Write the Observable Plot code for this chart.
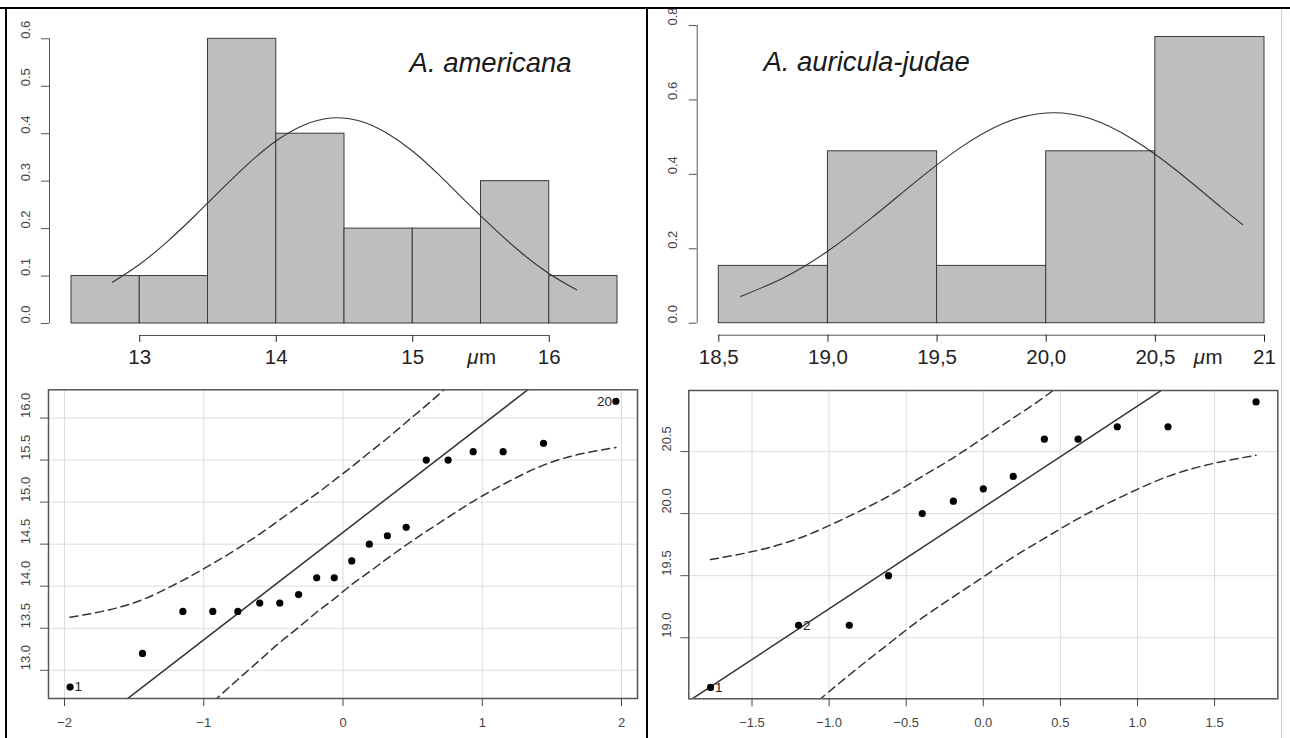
<!DOCTYPE html>
<html>
<head>
<meta charset="utf-8">
<script src="https://cdn.jsdelivr.net/npm/d3@7"></script>
<script src="https://cdn.jsdelivr.net/npm/@observablehq/plot@0.6"></script>
<style>
  body { margin: 0; background: #fff; }
  #wrap { position: relative; width: 1290px; height: 738px; overflow: hidden; background: #fff;
          font-family: "Liberation Sans", Arial, Helvetica, sans-serif; }
  .panel { position: absolute; }
  .bar { position: absolute; background: #000; }
</style>
</head>
<body>
<div id="wrap">
  <div class="panel" id="p1" style="left:0;top:0;"></div>
  <div class="panel" id="p2" style="left:645px;top:0;"></div>
  <div class="panel" id="p3" style="left:0;top:372px;"></div>
  <div class="panel" id="p4" style="left:645px;top:372px;"></div>
  <div class="bar" style="left:0;top:7px;width:1290px;height:2px;"></div>
  <div class="bar" style="left:5px;top:7px;width:2px;height:731px;"></div>
  <div class="bar" style="left:646px;top:7px;width:2px;height:731px;"></div>
  <div class="bar" style="left:1281px;top:9px;width:1px;height:729px;background:#ccc;"></div>
</div>
<script>
// ---------- Data: A. americana (histogram) ----------
const leftBinEdges = [12.5, 13, 13.5, 14, 14.5, 15, 15.5, 16, 16.5];
const leftDensity  = [0.1, 0.1, 0.6, 0.4, 0.2, 0.2, 0.3, 0.1];
const leftCurveX = [12.8, 13.0, 13.2, 13.4, 13.6, 13.8, 14.0, 14.2, 14.4, 14.6, 14.8, 15.0, 15.2, 15.4, 15.6, 15.8, 16.0, 16.2];
const leftCurveY = [0.087, 0.125, 0.172, 0.226, 0.283, 0.338, 0.385, 0.418, 0.433, 0.428, 0.403, 0.363, 0.311, 0.254, 0.199, 0.148, 0.105, 0.071];
const leftHistYTicks = [0, 0.1, 0.2, 0.3, 0.4, 0.5, 0.6];
const leftHistYLabels = ["0.0", "0.1", "0.2", "0.3", "0.4", "0.5", "0.6"];
const leftHistXTicks = [13, 14, 15, 16];
const leftHistXLabels = ["13", "14", "15", "16"];

// ---------- Data: A. auricula-judae (histogram) ----------
const rightBinEdges = [18.5, 19, 19.5, 20, 20.5, 21];
const rightDensity  = [0.154, 0.462, 0.154, 0.462, 0.769];
const rightCurveX = [18.6, 18.8, 19.0, 19.2, 19.4, 19.6, 19.8, 20.0, 20.2, 20.4, 20.6, 20.8, 20.9];
const rightCurveY = [0.072, 0.123, 0.194, 0.283, 0.379, 0.469, 0.536, 0.565, 0.550, 0.493, 0.409, 0.312, 0.265];
const rightHistYTicks = [0, 0.2, 0.4, 0.6, 0.8];
const rightHistYLabels = ["0.0", "0.2", "0.4", "0.6", "0.8"];
const rightHistXTicks = [18.5, 19, 19.5, 20, 20.5, 21];
const rightHistXLabels = ["18,5", "19,0", "19,5", "20,0", "20,5", "21"];

// ---------- Data: Q-Q plot A. americana ----------
const leftTheo   = [-1.96, -1.44, -1.15, -0.935, -0.755, -0.598, -0.454, -0.319, -0.189, -0.063, 0.063, 0.189, 0.319, 0.454, 0.598, 0.755, 0.935, 1.15, 1.44, 1.96];
const leftSample = [12.8, 13.2, 13.7, 13.7, 13.7, 13.8, 13.8, 13.9, 14.1, 14.1, 14.3, 14.5, 14.6, 14.7, 15.5, 15.5, 15.6, 15.6, 15.7, 16.2];
const leftUpper  = [13.63, 13.84, 14.07, 14.27, 14.45, 14.62, 14.79, 14.95, 15.10, 15.26, 15.42, 15.59, 15.76, 15.95, 16.15, 16.38, 16.66, 17.01, 17.52, 18.64];
const leftLower  = [10.63, 11.75, 12.27, 12.62, 12.89, 13.12, 13.33, 13.51, 13.69, 13.85, 14.02, 14.17, 14.33, 14.49, 14.65, 14.82, 15.01, 15.21, 15.44, 15.65];
const leftLineX  = [-2.12, 2.12];
const leftLineY  = [11.93, 17.35];
const leftQQXTicks  = [-2, -1, 0, 1, 2];
const leftQQXLabels = ["\u22122", "\u22121", "0", "1", "2"];
const leftQQYTicks  = [13.0, 13.5, 14.0, 14.5, 15.0, 15.5, 16.0];
const leftQQYLabels = ["13.0", "13.5", "14.0", "14.5", "15.0", "15.5", "16.0"];
const leftPointLabels = [{i: 0, text: "1", side: "right"}, {i: 19, text: "20", side: "left"}];

// ---------- Data: Q-Q plot A. auricula-judae ----------
const rightTheo   = [-1.769, -1.198, -0.869, -0.615, -0.396, -0.194, 0, 0.194, 0.396, 0.615, 0.869, 1.198, 1.769];
const rightSample = [18.6, 19.1, 19.1, 19.5, 20.0, 20.1, 20.2, 20.3, 20.6, 20.6, 20.7, 20.7, 20.9];
const rightUpper  = [19.63, 19.80, 19.98, 20.14, 20.30, 20.45, 20.61, 20.77, 20.94, 21.15, 21.40, 21.76, 22.51];
const rightLower  = [17.59, 18.35, 18.70, 18.95, 19.16, 19.33, 19.49, 19.65, 19.80, 19.96, 20.12, 20.30, 20.47];
const rightLineX  = [-1.91, 1.91];
const rightLineY  = [18.49, 21.61];
const rightQQXTicks  = [-1.5, -1.0, -0.5, 0, 0.5, 1.0, 1.5];
const rightQQXLabels = ["\u22121.5", "\u22121.0", "\u22120.5", "0.0", "0.5", "1.0", "1.5"];
const rightQQYTicks  = [19.0, 19.5, 20.0, 20.5];
const rightQQYLabels = ["19.0", "19.5", "20.0", "20.5"];
const rightPointLabels = [{i: 0, text: "1", side: "right"}, {i: 1, text: "2", side: "right"}];

// ---------- helpers ----------
const FONT = '"Liberation Sans", Arial, Helvetica, sans-serif';
const baseStyle = {fontFamily: FONT, background: "transparent", overflow: "visible"};
const zip = (xs, ys) => xs.map((x, i) => ({x, y: ys[i]}));
const bins = (edges, dens) => dens.map((d, i) => ({x1: edges[i], x2: edges[i + 1], y: d}));
const labelOf = (ticks, labels) => d => labels[ticks.findIndex(t => Math.abs(t - d) < 1e-9)];

function histogram(o) {
  return Plot.plot({
    width: 645, height: 372,
    marginLeft: o.ml, marginRight: o.mr, marginTop: o.mt, marginBottom: o.mb,
    x: {domain: o.xdom, axis: null},
    y: {domain: o.ydom, axis: null},
    style: baseStyle,
    marks: [
      Plot.rectY(o.bins, {x1: "x1", x2: "x2", y1: 0, y2: "y", fill: "#bebebe", stroke: "#3a3a3a", strokeWidth: 1}),
      Plot.line(o.curve, {x: "x", y: "y", curve: "natural", stroke: "#333", strokeWidth: 1.1}),
      // y axis (offset to the left, R style)
      Plot.ruleX([o.xdom[0]], {y1: o.ydom[0], y2: o.ydom[1], dx: o.yAxisDx, stroke: "#555"}),
      Plot.axisY({ticks: o.yTicks, tickSize: 8, tickFormat: () => "", label: null, dx: o.yAxisDx, stroke: "#555"}),
      Plot.text(o.yTicks, {y: d => d, frameAnchor: "left", dx: o.yLabelDx, rotate: -90,
        text: labelOf(o.yTicks, o.yLabels), fontSize: 13, fill: "#444"}),
      // x axis (offset below)
      Plot.ruleY([0], {x1: o.xTicks[0], x2: o.xTicks[o.xTicks.length - 1], dy: 12, stroke: "#555"}),
      Plot.axisX({ticks: o.xTicks, tickSize: 7, tickPadding: 7, dy: 12, fontSize: 20.5, label: null,
        tickFormat: labelOf(o.xTicks, o.xLabels), color: "#222"}),
      Plot.text(["\u03bc"], {x: o.unitX, y: 0, dy: 34, dx: o.muDx, textAnchor: "start", fontStyle: "italic", fontSize: 20.5, fill: "#222"}),
      Plot.text(["m"], {x: o.unitX, y: 0, dy: 34, dx: o.muDx + 11.8, textAnchor: "start", fontSize: 20.5, fill: "#222"}),
      Plot.text([o.title], {x: o.titleX, y: o.titleY, fontSize: 27.5, fontStyle: "italic", fill: "#1a1a1a"})
    ]
  });
}

function qqplot(o) {
  const pts = zip(o.theo, o.sample);
  const labR = o.labels.filter(l => l.side === "right").map(l => ({x: o.theo[l.i], y: o.sample[l.i], t: l.text}));
  const labL = o.labels.filter(l => l.side === "left").map(l => ({x: o.theo[l.i], y: o.sample[l.i], t: l.text}));
  return Plot.plot({
    width: 645, height: 366,
    marginLeft: o.ml, marginRight: o.mr, marginTop: o.mt, marginBottom: o.mb,
    x: {domain: o.xdom, axis: null},
    y: {domain: o.ydom, axis: null},
    style: baseStyle,
    marks: [
      Plot.ruleX(o.xTicks, {stroke: "#dcdcdc", strokeWidth: 1}),
      Plot.ruleY(o.yTicks, {stroke: "#dcdcdc", strokeWidth: 1}),
      Plot.line(zip(o.theo, o.upper), {x: "x", y: "y", curve: "monotone-x", stroke: "#333", strokeWidth: 1.5, strokeDasharray: "8,5", clip: true}),
      Plot.line(zip(o.theo, o.lower), {x: "x", y: "y", curve: "monotone-x", stroke: "#333", strokeWidth: 1.5, strokeDasharray: "8,5", clip: true}),
      Plot.line(zip(o.lineX, o.lineY), {x: "x", y: "y", stroke: "#333", strokeWidth: 1.5, clip: true}),
      Plot.dot(pts, {x: "x", y: "y", r: 3.6, fill: "#000", stroke: "none"}),
      Plot.text(labR, {x: "x", y: "y", text: "t", textAnchor: "start", dx: 4.5, fontSize: 13.5, fill: "#222"}),
      Plot.text(labL, {x: "x", y: "y", text: "t", textAnchor: "end", dx: -4, fontSize: 13.5, fill: "#222"}),
      Plot.frame({stroke: "#555", strokeWidth: 1.5}),
      Plot.axisX({ticks: o.xTicks, tickSize: 8, tickPadding: 11, fontSize: 13, label: null,
        tickFormat: labelOf(o.xTicks, o.xLabels), color: "#444"}),
      Plot.axisY({ticks: o.yTicks, tickSize: 8, tickFormat: () => "", label: null, stroke: "#555"}),
      Plot.text(o.yTicks, {y: d => d, frameAnchor: "left", dx: o.yLabelDx, rotate: -90,
        text: labelOf(o.yTicks, o.yLabels), fontSize: 13, fill: "#444"})
    ]
  });
}

document.getElementById("p1").append(histogram({
  ml: 71, mr: 28, mt: 38.3, mb: 49,
  xdom: [12.5, 16.5], ydom: [0, 0.6],
  bins: bins(leftBinEdges, leftDensity), curve: zip(leftCurveX, leftCurveY),
  yTicks: leftHistYTicks, yLabels: leftHistYLabels, yAxisDx: -22, yLabelDx: -46,
  xTicks: leftHistXTicks, xLabels: leftHistXLabels,
  unitX: 15.5, muDx: -13.8,
  title: "A. americana", titleX: 15.57, titleY: 0.549
}));

document.getElementById("p2").append(histogram({
  ml: 73.3, mr: 26, mt: 25, mb: 49.3,
  xdom: [18.5, 21], ydom: [0, 0.8],
  bins: bins(rightBinEdges, rightDensity), curve: zip(rightCurveX, rightCurveY),
  yTicks: rightHistYTicks, yLabels: rightHistYLabels, yAxisDx: -21.6, yLabelDx: -45.8,
  xTicks: rightHistXTicks, xLabels: rightHistXLabels,
  unitX: 20.75, muDx: -16.2,
  title: "A. auricula-judae", titleX: 19.177, titleY: 0.702
}));

document.getElementById("p3").append(qqplot({
  ml: 48, mr: 8, mt: 17.3, mb: 40,
  xdom: [-2.115, 2.115], ydom: [12.664, 16.336],
  theo: leftTheo, sample: leftSample, upper: leftUpper, lower: leftLower,
  lineX: leftLineX, lineY: leftLineY,
  xTicks: leftQQXTicks, xLabels: leftQQXLabels, yTicks: leftQQYTicks, yLabels: leftQQYLabels,
  yLabelDx: -23, labels: leftPointLabels
}));

document.getElementById("p4").append(qqplot({
  ml: 43.3, mr: 12.7, mt: 18, mb: 39.7,
  xdom: [-1.91, 1.91], ydom: [18.508, 20.992],
  theo: rightTheo, sample: rightSample, upper: rightUpper, lower: rightLower,
  lineX: rightLineX, lineY: rightLineY,
  xTicks: rightQQXTicks, xLabels: rightQQXLabels, yTicks: rightQQYTicks, yLabels: rightQQYLabels,
  yLabelDx: -21.8, labels: rightPointLabels
}));
</script>
</body>
</html>
